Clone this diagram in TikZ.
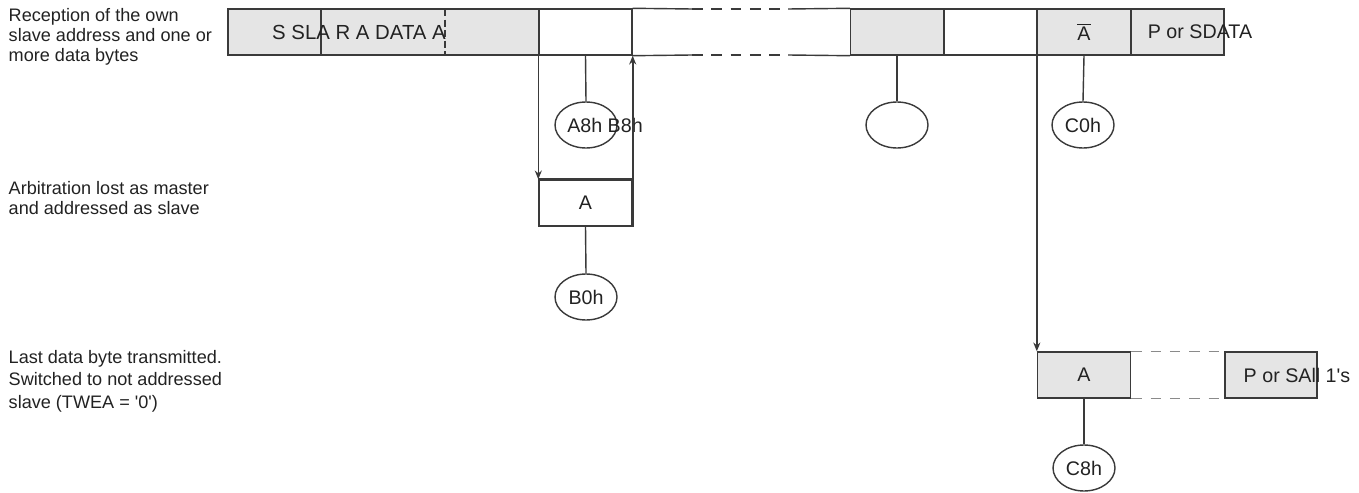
\documentclass[tikz,border=0pt]{standalone}
\usepackage{fontspec}
\setmainfont{Liberation Sans}
\usetikzlibrary{shapes.geometric,arrows.meta}

\definecolor{cellgray}{HTML}{E5E5E5}
\definecolor{linegray}{HTML}{3A3A3A}
\definecolor{dashgray}{HTML}{8A8A8A}
\definecolor{inkgray}{HTML}{222222}
\newcommand{\leftfont}{\fontsize{10.3}{11.4}\selectfont}
\newcommand{\cellfnt}{\fontsize{11.2}{12}\selectfont}

\begin{document}
\begin{tikzpicture}[x=0.02cm, y=-0.02cm, line width=0.8pt, draw=linegray,
  every node/.style={text=inkgray},
  lbl/.style={anchor=west, align=left, inner sep=0, font=\leftfont},
  cell/.style={draw=linegray, minimum height=0.92cm, minimum width=1.86cm, inner sep=0, font=\cellfnt},
  state/.style={ellipse, draw=linegray, minimum width=1.24cm, minimum height=0.92cm, inner sep=0, font=\cellfnt},
  txt/.style={inner sep=0, font=\cellfnt},
  gap/.style={dash pattern=on 6pt off 5pt},
  tip/.style={-{Stealth[length=5pt,width=4pt]}}]
  \useasboundingbox (0,0) rectangle (1359,493);

  % row labels
  \node[lbl] (rowa) at (8,37) {Reception of the own\\slave address and one or\\more data bytes};
  \node[lbl] (rowb) at (8,198) {Arbitration lost as master\\and addressed as slave};
  \node[lbl, font=\fontsize{10.3}{12.8}\selectfont] (rowc) at (8,381) {Last data byte transmitted.\\Switched to not addressed\\slave (TWEA = \textquotesingle 0\textquotesingle)};

  % top row
  \node[cell, fill=cellgray, minimum width=6.22cm] (sla) at (383.5,32) {};
  \draw (321,9) -- (321,55);
  \draw[line width=1.2pt, dash pattern=on 4pt off 2pt] (445,9) -- (445,55);
  \node[txt, font=\fontsize{11.6}{12}\selectfont] (slatxt) at (359,32) {S SLA R A DATA A};
  \node[cell] (dat) at (585.5,32) {};
  \node[cell, fill=cellgray] (datb) at (897,32) {};
  \node[cell] (datc) at (990.5,32) {};
  \node[cell, fill=cellgray] (nack) at (1084,32) {$\overline{\mbox{A}}$};
  \node[cell, fill=cellgray] (stop) at (1177.5,32) {};
  \node[txt] (stoptxt) at (1200,32) {P or SDATA};

  \coordinate (gna) at (692,9);
  \coordinate (gnb) at (788,9);
  \coordinate (gsa) at (692,55);
  \coordinate (gsb) at (788,55);
  \draw (dat.north east) -- (gna) (gnb) -- (datb.north west);
  \draw (dat.south east) -- (gsa) (gsb) -- (datb.south west);
  \draw[gap] (gna) -- (gnb) (gsa) -- (gsb);

  % states, first row
  \node[state] (sa) at (586,125) {};
  \node[txt] (satxt) at (605,125) {A8h B8h};
  \node[state] (sb) at (897,125) {};
  \node[state] (sc) at (1083,125) {C0h};
  \draw (dat.south) -- (sa.north);
  \draw (datb.south) -- (sb.north);
  \draw (nack.south) -- (sc.north);

  % arbitration lost
  \node[cell] (arb) at (585.5,203) {A};
  \node[state] (sd) at (586,297) {B0h};
  \draw[tip] (dat.south west) -- (arb.north west);
  \draw[line width=1.3pt] (arb.north west) -- (arb.north east) -- (arb.south east);
  \draw[tip, line width=1.3pt] (arb.north east) -- (dat.south east);
  \draw (arb.south) -- (sd.north);

  % last byte
  \node[cell, fill=cellgray] (last) at (1084,375) {A};
  \node[cell, fill=cellgray, minimum width=1.84cm] (rest) at (1271,375) {};
  \node[txt] (resttxt) at (1297,375) {P or SAll 1\textquotesingle s};
  \node[state] (se) at (1084,468) {C8h};
  \draw[tip] (nack.south west) -- (last.north west);
  \draw[gap, draw=dashgray] (last.north east) -- (rest.north west) (last.south east) -- (rest.south west);
  \draw (last.south) -- (se.north);
\end{tikzpicture}
\end{document}
